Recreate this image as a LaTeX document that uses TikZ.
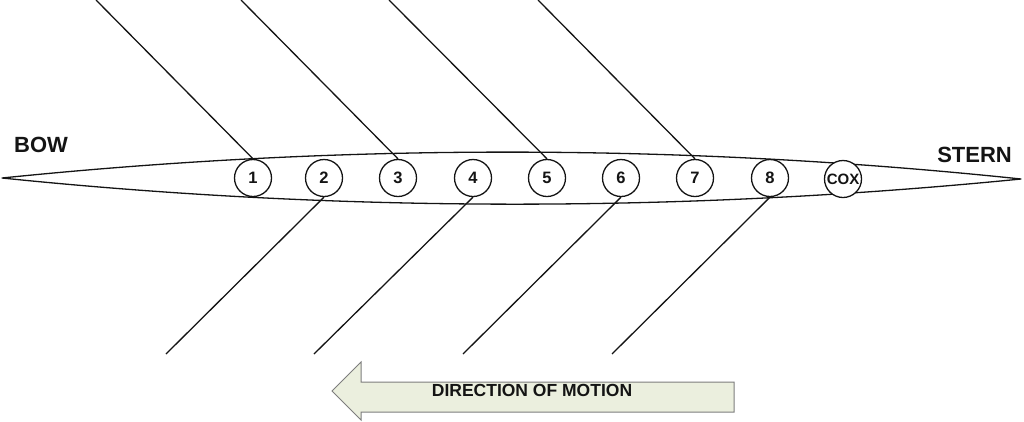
\documentclass[tikz,border=0pt]{standalone}
\usepackage{fontspec}
\setmainfont{Liberation Sans}
\definecolor{arrowfill}{RGB}{235,239,222}
\definecolor{arrowline}{RGB}{125,125,125}
\definecolor{ink}{RGB}{20,20,20}
\begin{document}
\begin{tikzpicture}[x=1pt,y=-1pt,
  seat/.style={circle,draw=ink,fill=white,line width=1.3pt,minimum size=37pt,inner sep=0pt,font=\fontsize{16.5}{16.5}\selectfont\bfseries,text=ink},
  oar/.style={draw=ink,line width=1.3pt},
  hull/.style={draw=ink,line width=1.3pt,line join=round},
  endlabel/.style={inner sep=0pt,font=\fontsize{22}{22}\selectfont\bfseries,text=ink}]
\useasboundingbox (0,0) rectangle (1024,421);
% hull
\draw[hull] (2,178) .. controls (341,143.3) and (681,143.3) .. (1021,179)
  .. controls (681,212.7) and (341,212.7) .. cycle;
% seats
\node[seat] (c1) at (253,178) {1};
\node[seat] (c2) at (324,178) {2};
\node[seat] (c3) at (398,178) {3};
\node[seat] (c4) at (473,178) {4};
\node[seat] (c5) at (547,178) {5};
\node[seat] (c6) at (621,178) {6};
\node[seat] (c7) at (695,178) {7};
\node[seat] (c8) at (770,178) {8};
\node[seat,font=\fontsize{15}{15}\selectfont\bfseries] (cox) at (843,179) {COX};
% oar blade ends
\coordinate (o1) at (96,0);
\coordinate (o3) at (241,0);
\coordinate (o5) at (389,0);
\coordinate (o7) at (538,0);
\coordinate (o2) at (166,354);
\coordinate (o4) at (314,354);
\coordinate (o6) at (463,354);
\coordinate (o8) at (612,354);
\draw[oar] (o1) -- (c1.north);
\draw[oar] (o3) -- (c3.north);
\draw[oar] (o5) -- (c5.north);
\draw[oar] (o7) -- (c7.north);
\draw[oar] (c2.south) -- (o2);
\draw[oar] (c4.south) -- (o4);
\draw[oar] (c6.south) -- (o6);
\draw[oar] (c8.south) -- (o8);
% labels
\node[endlabel,anchor=base west] (bow) at (14,152) {BOW};
\node[endlabel,anchor=base east] (stern) at (1012,162) {STERN};
% direction arrow
\filldraw[fill=arrowfill,draw=arrowline,line width=1pt,line join=miter]
  (332,391) -- (361,362) -- (361,382) -- (734,382) -- (734,412) -- (361,412) -- (361,420) -- cycle;
\node[inner sep=0pt,anchor=base,font=\fontsize{17.5}{17.5}\selectfont\bfseries,text=ink] (motion) at (532,396) {DIRECTION OF MOTION};
\end{tikzpicture}
\end{document}
